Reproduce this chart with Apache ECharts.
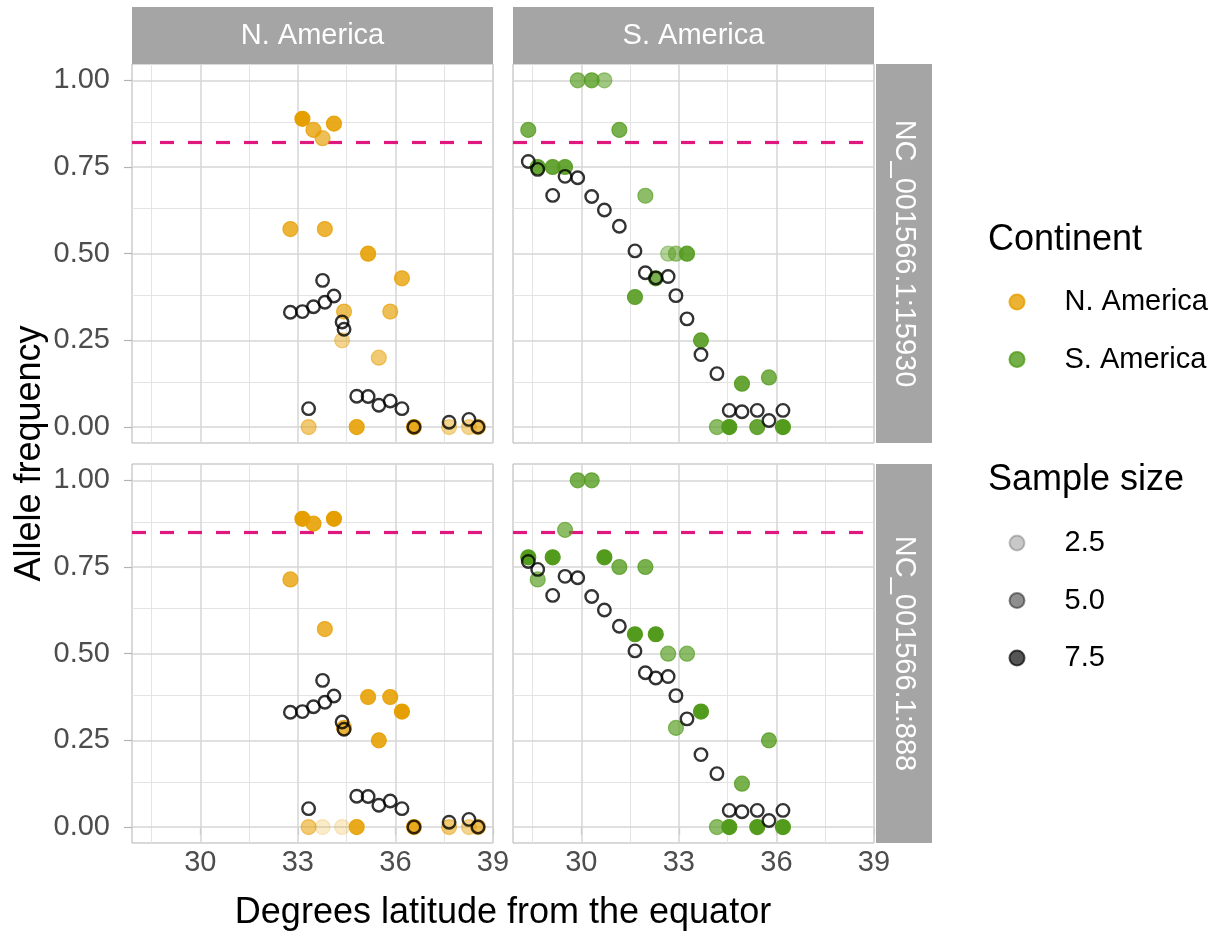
<!DOCTYPE html>
<html>
<head>
<meta charset="utf-8">
<script src="https://cdn.jsdelivr.net/npm/echarts@6/dist/echarts.min.js"></script>
<style>
html, body { margin: 0; padding: 0; background: #ffffff; }
#chart { width: 1212px; height: 932px; }
</style>
</head>
<body>
<div id="chart"></div>
<script>
// Facet labels
const continents = ['N. America', 'S. America'];
const loci = ['NC_001566.1:15930', 'NC_001566.1:888'];

// Sampling sites, degrees latitude from the equator
const latNA = [32.77, 33.14, 33.33, 33.48, 33.76, 33.83, 34.11, 34.36, 34.42, 34.81, 35.16, 35.49, 35.84, 36.20, 36.57, 37.65, 38.26, 38.54];
const latSA = [28.37, 28.66, 29.12, 29.50, 29.89, 30.32, 30.71, 31.17, 31.65, 31.97, 32.29, 32.67, 32.91, 33.25, 33.68, 34.17, 34.55, 34.94, 35.41, 35.77, 36.20];

// Expected allele frequency at each site (open circles), shared by both loci
const expectedNA = [0.331, 0.333, 0.053, 0.347, 0.423, 0.360, 0.378, 0.303, 0.282, 0.089, 0.088, 0.063, 0.075, 0.053, 0.000, 0.014, 0.022, 0.000];
const expectedSA = [0.766, 0.743, 0.668, 0.723, 0.719, 0.665, 0.626, 0.579, 0.508, 0.445, 0.430, 0.434, 0.379, 0.312, 0.209, 0.154, 0.048, 0.044, 0.048, 0.019, 0.048];

// Observed allele frequency and sample size, locus NC_001566.1:15930
const obsNA15930 = [0.571, 0.889, 0.000, 0.857, 0.833, 0.571, 0.875, 0.250, 0.333, 0.000, 0.500, 0.200, 0.333, 0.429, 0.000, 0.000, 0.000, 0.000];
const sizeNA15930 = [7, 9, 5, 7, 6, 7, 8, 4, 6, 8, 8, 5, 6, 7, 8, 4, 4, 6];
const obsSA15930 = [0.857, 0.750, 0.750, 0.750, 1.000, 1.000, 1.000, 0.857, 0.375, 0.667, 0.429, 0.500, 0.500, 0.500, 0.250, 0.000, 0.000, 0.125, 0.000, 0.143, 0.000];
const sizeSA15930 = [7, 8, 8, 8, 6, 7, 5, 7, 8, 6, 7, 4, 5, 8, 8, 6, 9, 8, 8, 7, 9];

// Observed allele frequency and sample size, locus NC_001566.1:888
const obsNA888 = [0.714, 0.889, 0.000, 0.875, 0.000, 0.571, 0.889, 0.000, 0.286, 0.000, 0.375, 0.250, 0.375, 0.333, 0.000, 0.000, 0.000, 0.000];
const sizeNA888 = [7, 9, 5, 8, 2, 7, 9, 2, 7, 8, 8, 8, 8, 9, 8, 5, 4, 6];
const obsSA888 = [0.778, 0.714, 0.778, 0.857, 1.000, 1.000, 0.778, 0.750, 0.556, 0.750, 0.556, 0.500, 0.286, 0.500, 0.333, 0.000, 0.000, 0.125, 0.000, 0.250, 0.000];
const sizeSA888 = [9, 6, 9, 6, 7, 7, 9, 7, 9, 7, 9, 6, 6, 6, 9, 6, 9, 7, 9, 7, 9];

// Horizontal reference frequency for each locus
const thresholds = [0.824, 0.846];

// Axis ticks and legend breaks
const xTicks = [30, 33, 36, 39];
const xMinorTicks = [28.5, 31.5, 34.5, 37.5];
const yTicks = [0, 0.25, 0.5, 0.75, 1];
const yMinorTicks = [0.125, 0.375, 0.625, 0.875];
const sizeBreaks = [2.5, 5.0, 7.5];

const X_RANGE = [27.9, 39.0];
const Y_RANGE = [-0.046, 1.047];
const SIZE_RANGE = [1, 9];

const FONT = "'Liberation Sans', Arial, Helvetica, sans-serif";
const continentColors = { 'N. America': '#E69F00', 'S. America': '#539B1C' };
const STRIP_FILL = '#a5a5a5';
const GRID_MAJOR = '#d6d6d6';
const GRID_MINOR = '#e4e4e4';
const BORDER = '#b3b3b3';
const REF_COLOR = '#e0177f';

// Sample size -> opacity (linear, like an alpha scale from 0.1 to 1)
function alphaFor(n) {
  return 0.1 + 0.9 * (n - SIZE_RANGE[0]) / (SIZE_RANGE[1] - SIZE_RANGE[0]);
}

const panels = [
  { row: 0, col: 0, cont: 0, locus: 0, lat: latNA, obs: obsNA15930, size: sizeNA15930, exp: expectedNA },
  { row: 0, col: 1, cont: 1, locus: 0, lat: latSA, obs: obsSA15930, size: sizeSA15930, exp: expectedSA },
  { row: 1, col: 0, cont: 0, locus: 1, lat: latNA, obs: obsNA888, size: sizeNA888, exp: expectedNA },
  { row: 1, col: 1, cont: 1, locus: 1, lat: latSA, obs: obsSA888, size: sizeSA888, exp: expectedSA }
];

// Panel layout
const colLeft = [132, 513];
const rowTop = [64, 464];
const PANEL_W = 361, PANEL_H = 379;
const STRIP_SIZE = 57;

const grids = panels.map(p => ({
  left: colLeft[p.col], top: rowTop[p.row], width: PANEL_W, height: PANEL_H,
  show: true, backgroundColor: '#ffffff', borderColor: BORDER, borderWidth: 1,
  containLabel: false
}));

const xAxes = panels.map((p, i) => ({
  type: 'value', gridIndex: i, min: X_RANGE[0], max: X_RANGE[1],
  axisLine: { show: false },
  splitLine: { show: false },
  axisTick: { show: p.row === 1, customValues: xTicks, length: 8, lineStyle: { color: BORDER, width: 1.2 } },
  axisLabel: { show: p.row === 1, customValues: xTicks, margin: 5, fontSize: 29, color: '#4d4d4d', fontFamily: FONT,
    formatter: v => String(v) }
}));

const yAxes = panels.map((p, i) => ({
  type: 'value', gridIndex: i, min: Y_RANGE[0], max: Y_RANGE[1],
  axisLine: { show: false },
  splitLine: { show: false },
  axisTick: { show: p.col === 0, customValues: yTicks, length: 8, lineStyle: { color: BORDER, width: 1.2 } },
  axisLabel: { show: p.col === 0, customValues: yTicks, margin: 22, fontSize: 29, color: '#4d4d4d', fontFamily: FONT,
    formatter: v => v.toFixed(2) }
}));

function gridLine(axis, v, major) {
  const d = {};
  d[axis] = v;
  d.lineStyle = { color: major ? GRID_MAJOR : GRID_MINOR, width: major ? 1.5 : 1, type: 'solid' };
  return d;
}

const series = [];
panels.forEach((p, i) => {
  const name = continents[p.cont];
  const color = continentColors[name];
  // Panel grid lines
  series.push({
    type: 'scatter', name: 'grid-' + i, xAxisIndex: i, yAxisIndex: i, data: [], silent: true, z: 1,
    markLine: {
      silent: true, z: 1, symbol: ['none', 'none'], label: { show: false }, emphasis: { disabled: true },
      animation: false,
      data: [
        ...yMinorTicks.map(v => gridLine('yAxis', v, false)),
        ...xMinorTicks.map(v => gridLine('xAxis', v, false)),
        ...yTicks.map(v => gridLine('yAxis', v, true)),
        ...xTicks.map(v => gridLine('xAxis', v, true))
      ]
    }
  });
  // Observed frequencies, opacity from sample size
  series.push({
    type: 'scatter', name: name, xAxisIndex: i, yAxisIndex: i, z: 2,
    symbol: 'circle', symbolSize: 15,
    itemStyle: { color: color, borderColor: color, borderWidth: 1.2 },
    emphasis: { disabled: true },
    data: p.lat.map((x, k) => ({ value: [x, p.obs[k], p.size[k]], itemStyle: { opacity: alphaFor(p.size[k]) } })),
    markLine: {
      silent: true, z: 1.5, symbol: ['none', 'none'], label: { show: false }, emphasis: { disabled: true },
      animation: false,
      lineStyle: { color: REF_COLOR, width: 3.2, type: [14, 14] },
      data: [{ yAxis: thresholds[p.locus] }]
    }
  });
  // Expected frequencies (open circles)
  series.push({
    type: 'scatter', name: 'expected-' + i, xAxisIndex: i, yAxisIndex: i, z: 3,
    symbol: 'circle', symbolSize: 12.5,
    itemStyle: { color: 'rgba(0,0,0,0)', borderColor: '#000000', borderWidth: 2.4 },
    emphasis: { disabled: true },
    data: p.lat.map((x, k) => [x, p.exp[k]])
  });
});

// Legend keys for sample size
sizeBreaks.forEach(b => {
  const c = 'rgba(0,0,0,' + alphaFor(b).toFixed(3) + ')';
  series.push({
    type: 'scatter', name: b.toFixed(1), xAxisIndex: 0, yAxisIndex: 0, data: [],
    symbol: 'circle', symbolSize: 14,
    itemStyle: { color: c, borderColor: c, borderWidth: 1.2 }
  });
});

const legendText = { fontSize: 29, color: '#000000', fontFamily: FONT, padding: [0, 0, 0, 35], lineHeight: 30 };
const legends = [
  { data: continents, orient: 'vertical', left: 1008.5, top: 287, padding: 0, icon: 'circle',
    itemWidth: 15, itemHeight: 15, itemGap: 27.5, selectedMode: false, textStyle: legendText },
  { data: sizeBreaks.map(b => b.toFixed(1)), orient: 'vertical', left: 1008.5, top: 528, padding: 0, icon: 'circle',
    itemWidth: 15, itemHeight: 15, itemGap: 27.5, selectedMode: false, textStyle: legendText }
];

// Facet strips, axis titles and legend titles
const graphics = [];
[0, 1].forEach(c => {
  graphics.push({ type: 'rect', shape: { x: colLeft[c], y: rowTop[0] - STRIP_SIZE, width: PANEL_W, height: STRIP_SIZE }, style: { fill: STRIP_FILL } });
  graphics.push({ type: 'text', x: colLeft[c] + PANEL_W / 2, y: rowTop[0] - STRIP_SIZE / 2,
    style: { text: continents[c], fill: '#ffffff', font: '29px ' + FONT, align: 'center', verticalAlign: 'middle' } });
});
[0, 1].forEach(r => {
  const sx = colLeft[1] + PANEL_W + 2;
  graphics.push({ type: 'rect', shape: { x: sx, y: rowTop[r], width: 932 - sx, height: PANEL_H }, style: { fill: STRIP_FILL } });
  graphics.push({ type: 'text', x: sx + (932 - sx) / 2, y: rowTop[r] + PANEL_H / 2, rotation: -Math.PI / 2,
    style: { text: loci[r], fill: '#ffffff', font: '29px ' + FONT, align: 'center', verticalAlign: 'middle' } });
});
graphics.push({ type: 'text', x: (colLeft[0] + colLeft[1] + PANEL_W) / 2, y: 913,
  style: { text: 'Degrees latitude from the equator', fill: '#000000', font: '36px ' + FONT, align: 'center', verticalAlign: 'middle' } });
graphics.push({ type: 'text', x: 30, y: (rowTop[0] + rowTop[1] + PANEL_H) / 2, rotation: Math.PI / 2,
  style: { text: 'Allele frequency', fill: '#000000', font: '36px ' + FONT, align: 'center', verticalAlign: 'middle' } });
graphics.push({ type: 'text', x: 988, y: 240,
  style: { text: 'Continent', fill: '#000000', font: '36px ' + FONT, align: 'left', verticalAlign: 'middle' } });
graphics.push({ type: 'text', x: 988, y: 480,
  style: { text: 'Sample size', fill: '#000000', font: '36px ' + FONT, align: 'left', verticalAlign: 'middle' } });

const chart = echarts.init(document.getElementById('chart'), null, { renderer: 'canvas' });
chart.setOption({
  animation: false,
  backgroundColor: '#ffffff',
  textStyle: { fontFamily: FONT },
  grid: grids,
  xAxis: xAxes,
  yAxis: yAxes,
  legend: legends,
  series: series,
  graphic: graphics
});
</script>
</body>
</html>
